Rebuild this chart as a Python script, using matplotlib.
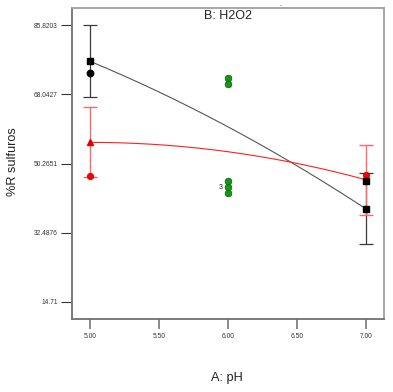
import numpy as np
import matplotlib
matplotlib.use("Agg")
import matplotlib.pyplot as plt

plt.rcParams['font.family'] = ['Liberation Sans', 'DejaVu Sans']

# ---- data ----
curve_x = [5.0, 5.5, 6.0, 6.5, 7.0]
black_curve = [76.6, 68.6, 59.7, 49.8, 38.6]
red_curve = [55.8, 54.9, 53.3, 50.5, 46.0]

pred_x = [5.0, 7.0]
black_pred = [76.6, 38.6]
black_err = [9.2, 9.1]
red_pred = [55.8, 46.0]
red_err = [9.1, 9.1]

black_pts_x = [5.0, 7.0]
black_pts_y = [73.5, 45.8]
red_pts_x = [5.0, 7.0]
red_pts_y = [47.0, 47.4]
green_pts_x = [6.0, 6.0, 6.0, 6.0, 6.0]
green_pts_y = [72.2, 70.6, 45.7, 44.1, 42.6]

yticks = [14.71, 32.4875, 50.2651, 68.0427, 85.8203]
ytick_labels = ["14.71", "32.4876", "50.2651", "68.0427", "85.8203"]
xticks = [5.0, 5.5, 6.0, 6.5, 7.0]
xtick_labels = ["5.00", "5.50", "6.00", "6.50", "7.00"]

fig = plt.figure(figsize=(3.93, 3.92), dpi=100)
ax = fig.add_axes([0.1824, 0.1862, 0.7947, 0.7934])
ax.set_xlim(4.867, 7.133)
ax.set_ylim(10.26, 90.27)

xs = np.linspace(5.0, 7.0, 200)
bc = np.polyval(np.polyfit(curve_x, black_curve, 2), xs)
rc = np.polyval(np.polyfit(curve_x, red_curve, 2), xs)
ax.plot(xs, bc, color='#555555', lw=0.8, zorder=2)
ax.plot(xs, rc, color='#ff2020', lw=0.8, zorder=2)

ax.errorbar(pred_x, black_pred, yerr=black_err, fmt='none', ecolor='#3a3a3a',
            elinewidth=0.9, capsize=5, capthick=0.9, zorder=3)
ax.errorbar(pred_x, red_pred, yerr=red_err, fmt='none', ecolor='#f86a6a',
            elinewidth=1.0, capsize=5, capthick=1.0, zorder=4)

ax.plot(pred_x[:1], red_pred[:1], marker='^', ls='none', color='#e00000',
        markersize=5, zorder=5)
ax.plot(pred_x, black_pred, marker='s', ls='none', color='black',
        markersize=5, zorder=5)

ax.plot(red_pts_x, red_pts_y, marker='o', ls='none', color='#ff0000',
        markeredgecolor='#b00000', markeredgewidth=0.5, markersize=4.6, zorder=6)
ax.plot(black_pts_x[:1], black_pts_y[:1], marker='o', ls='none', color='black',
        markersize=4.6, zorder=6)
ax.plot(black_pts_x[1:], black_pts_y[1:], marker='s', ls='none', color='black',
        markersize=4.2, zorder=6)
ax.plot(green_pts_x, green_pts_y, marker='o', ls='none', color='#119911',
        markeredgecolor='#0a5a0a', markeredgewidth=0.5, markersize=4.8, zorder=6)
ax.text(5.96, 44.1, "3", fontsize=5, ha='right', va='center', color='#222222')

ax.text(6.0, 88.3, "B: H2O2", fontsize=9, ha='center', va='center', color='#222222')

ax.set_xticks(xticks)
ax.set_xticklabels(xtick_labels)
ax.set_yticks(yticks)
ax.set_yticklabels(ytick_labels)
ax.tick_params(axis='both', labelsize=4.8, colors='#333333', direction='out')
ax.tick_params(axis='x', length=7, width=1.2, color='#777777', pad=3)
ax.tick_params(axis='y', length=8, width=0.8, color='#333333', pad=2)

for s in ['top', 'right']:
    ax.spines[s].set_color('#a0a0a0')
    ax.spines[s].set_linewidth(1.3)
for s in ['left', 'bottom']:
    ax.spines[s].set_color('#707070')
    ax.spines[s].set_linewidth(1.3)

fig.text(13.5 / 393, 1 - 162 / 392, "%R sulfuros", rotation=90, fontsize=9.2,
         ha='center', va='center', color='#222222')
fig.text(226.7 / 393, 1 - 378 / 392, "A: pH", fontsize=9.2,
         ha='center', va='center', color='#222222')
fig.text(280 / 393, 1 - 5 / 392, ".", fontsize=5, ha='center', va='center', color='#222222')

fig.savefig("out.png", dpi=100)
